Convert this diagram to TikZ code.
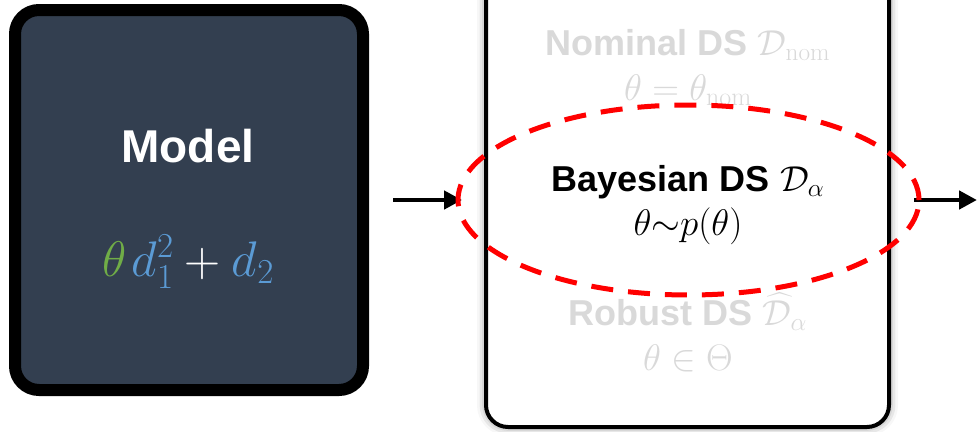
\RequirePackage{fix-cm}
\documentclass[tikz,border=0pt]{standalone}
\usepackage{amsmath}
\usepackage[no-math]{fontspec}
\setmainfont{Liberation Sans}
\usetikzlibrary{arrows.meta,shapes.geometric,shadows.blur}
\definecolor{boxfill}{HTML}{333F50}
\definecolor{fadegray}{HTML}{D9D9D9}
\definecolor{thgreen}{HTML}{70AD47}
\definecolor{dblue}{HTML}{5B9BD5}
\definecolor{dashred}{HTML}{FF0000}
\begin{document}
\begin{tikzpicture}[x=1pt,y=-1pt,
  modelbox/.style={draw=black,line width=12pt,fill=boxfill,rounded corners=24pt,minimum width=348pt,minimum height=380pt,inner sep=0pt},
  dsbox/.style={draw=black,line width=4pt,fill=white,rounded corners=22pt,minimum width=403pt,minimum height=454pt,inner sep=0pt,
    blur shadow={shadow xshift=0pt,shadow yshift=0pt,shadow blur radius=9pt,shadow opacity=50}},
  bigtxt/.style={font=\fontsize{36}{40}\selectfont\bfseries,anchor=base,inner sep=0pt},
  mathtxt/.style={font=\fontsize{37}{40}\selectfont,anchor=base,inner sep=0pt},
  flow/.style={line width=4.5pt,-{Triangle[length=18pt,width=18pt]}},
  hl/.style={draw=dashred,line width=5pt,dash pattern=on 22pt off 15pt,ellipse,minimum width=461pt,minimum height=190pt,inner sep=0pt}
]
\useasboundingbox (0,0) rectangle (977,431);
% model box
\node[modelbox] (model) at (189,200) {};
\node[font=\fontsize{46}{50}\selectfont\bfseries,text=white,anchor=base,inner sep=0pt] (mtitle) at (188,162) {Model};
\node[font=\fontsize{50}{54}\selectfont,text=white,anchor=base,inner sep=0pt] (mform) at (188,276)
  {$\textcolor{thgreen}{\theta}\mkern2mu\textcolor{dblue}{d_1^2}+\textcolor{dblue}{d_2}$};
% DS box
\node[dsbox] (ds) at (687.5,200) {};
\node[bigtxt,text=fadegray] (nomt) at (688,55) {Nominal DS $\mathcal{D}_{\mathrm{nom}}$};
\node[mathtxt,text=fadegray] (nomm) at (688,100) {$\theta=\theta_{\mathrm{nom}}$};
\node[bigtxt] (bayt) at (688,191) {Bayesian DS $\mathcal{D}_{\alpha}$};
\node[mathtxt] (baym) at (688,235) {$\theta{\sim}p(\theta)$};
\node[bigtxt,text=fadegray] (robt) at (688,325) {Robust DS $\widehat{\mathcal{D}}_{\alpha}$};
\node[mathtxt,text=fadegray] (robm) at (688,370) {$\theta\in\Theta$};
% arrows
\coordinate (outend) at (977,200);
\draw[flow,shorten <=24pt,shorten >=22pt] (model.east) -- (ds.west);
\draw[flow,shorten <=23pt] (ds.east) -- (outend);
% highlight ellipse
\node[hl] (ell) at (688.5,200) {};
\end{tikzpicture}
\end{document}
